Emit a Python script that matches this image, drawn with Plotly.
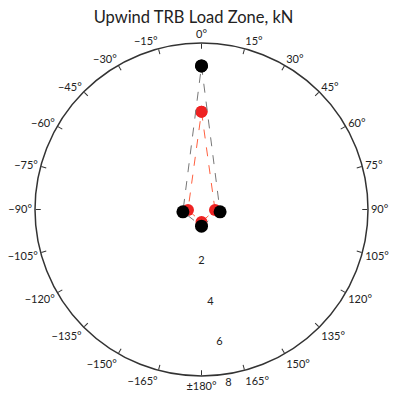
import plotly.graph_objects as go

# Data
black_theta = [0, 97, 180, -97, 0]
black_r = [6.9, 0.9, 0.8, 0.9, 6.9]
red_theta = [0, 92, 180, -92, 0]
red_r = [4.7, 0.65, 0.6, 0.65, 4.7]

ang_vals = list(range(0, 360, 15))
ang_text = []
for v in ang_vals:
    d = v if v <= 180 else v - 360
    if d == 180:
        ang_text.append("±180°")
    elif d < 0:
        ang_text.append("−%d°" % (-d))
    else:
        ang_text.append("%d°" % d)

radial_ticks = [2, 4, 6, 8]
radial_labels = ["2", "4", "6", "8"]

fig = go.Figure()
fig.add_trace(go.Scatterpolar(
    r=red_r, theta=red_theta, mode="lines+markers",
    line=dict(color="#ff6040", width=1, dash="dash"),
    marker=dict(color="#ee2222", size=12),
    showlegend=False,
))
fig.add_trace(go.Scatterpolar(
    r=black_r, theta=black_theta, mode="lines+markers",
    line=dict(color="#777777", width=1, dash="dash"),
    marker=dict(color="#000000", size=13),
    showlegend=False,
))

W, H = 395, 401
cx, cy, R = 201.5, 209.5, 166.5
fig.update_layout(
    width=W, height=H,
    margin=dict(l=0, r=0, t=0, b=0),
    paper_bgcolor="white",
    font=dict(family="Lato, Open Sans, sans-serif", size=11, color="#222222"),
    title=dict(text="Upwind TRB Load Zone, kN", x=0.49, xanchor="center",
               y=1 - 17 / H, yanchor="middle", font=dict(size=16.5, color="#222222")),
    polar=dict(
        domain=dict(x=[(cx - R) / W, (cx + R) / W], y=[(H - cy - R) / H, (H - cy + R) / H]),
        bgcolor="white",
        angularaxis=dict(
            rotation=90, direction="clockwise",
            tickmode="array", tickvals=ang_vals, ticktext=ang_text,
            ticks="inside", ticklen=5, tickcolor="#333333",
            showgrid=False, linecolor="#333333", linewidth=1.5,
            tickfont=dict(size=11),
        ),
        radialaxis=dict(
            range=[0, 8], angle=-77.5, tickangle=-77.5,
            tickmode="array", tickvals=radial_ticks,
            ticktext=["<br>" + t for t in radial_labels],
            showgrid=False, showline=False, ticks="",
            tickfont=dict(size=11),
        ),
    ),
)
fig.write_html("out.html", config={"displayModeBar": False},
               post_script="document.body.style.margin='0';")
